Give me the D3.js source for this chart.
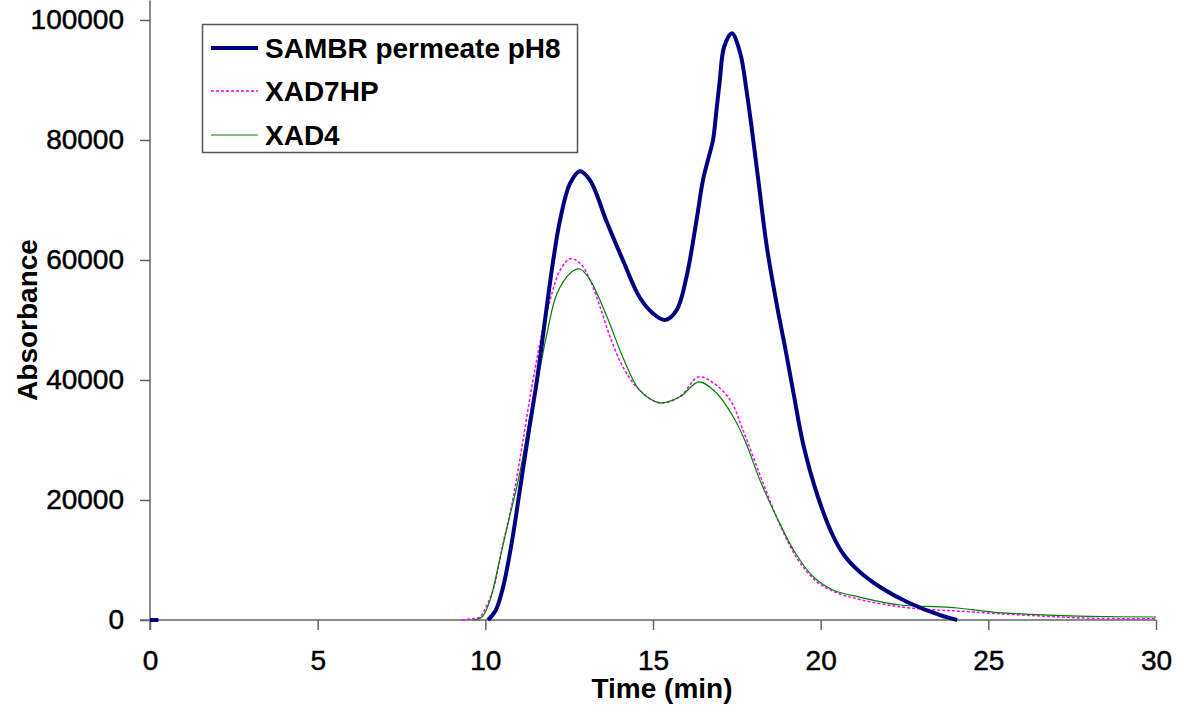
<!DOCTYPE html>
<html>
<head>
<meta charset="utf-8">
<script src="https://cdn.jsdelivr.net/npm/d3@7"></script>
<style>
  body { margin: 0; background: #fff; }
  svg text { font-family: "Liberation Sans", Arial, sans-serif; fill: #000; }
</style>
</head>
<body>
<svg width="1185" height="718"></svg>
<script>
// Series data: [time (min), absorbance]
// null marks a gap in the recording
const sambr = [
  [0, 0], [0.25, 0], null,
  [10.08, 0], [10.3, 1500], [10.53, 5500], [10.8, 13300], [11.03, 21700], [11.27, 30500],
  [11.54, 40000], [11.78, 50000], [12.0, 59000], [12.23, 66700], [12.53, 72800], [12.82, 74800],
  [13.12, 73300], [13.63, 66200], [14.1, 60000], [14.6, 53800], [15.0, 51100], [15.36, 50000],
  [15.71, 51700], [16.0, 57200], [16.3, 66700], [16.49, 73300], [16.64, 76700], [16.79, 80000],
  [16.88, 84300], [16.99, 89800], [17.12, 95500], [17.35, 97800], [17.6, 94500], [17.8, 87800],
  [17.95, 81700], [18.13, 73800], [18.4, 62000], [18.7, 52300], [18.97, 44500], [19.2, 37500],
  [19.48, 29300], [19.92, 20500], [20.37, 14000], [20.7, 10800], [21.17, 8000], [21.77, 5500],
  [22.58, 3000], [23.56, 800], [24.07, 0]
];

const xad7hp = [
  [9.3, 0], [9.6, 200], [9.84, 500], [9.93, 1200], [10.23, 5000], [10.5, 12000], [10.8, 19500],
  [11.09, 28800], [11.39, 39000], [11.69, 47800], [11.93, 53300], [12.23, 58300], [12.53, 60200],
  [12.82, 59500], [13.12, 56700], [13.42, 52200], [13.72, 47200], [14.1, 42200], [14.6, 38300],
  [15.2, 36200], [15.8, 37200], [16.35, 40500], [16.8, 39500], [17.3, 36700], [17.68, 31700],
  [18.25, 23300], [18.79, 15800], [19.33, 10000], [19.9, 6300], [20.5, 4500], [21.17, 3400],
  [22.37, 2200], [23.35, 1700], [24.07, 1500], [25.14, 1100], [26.84, 600], [28.0, 300], [30.0, 200]
];

const xad4 = [
  [9.63, 0], [9.9, 500], [10.14, 3300], [10.38, 8800], [10.65, 15500], [10.95, 22500],
  [11.12, 27200], [11.33, 34000], [11.54, 39300], [11.84, 47800], [12.13, 54300], [12.53, 57800],
  [12.82, 58500], [13.12, 56700], [13.63, 50500], [14.1, 43800], [14.6, 38300], [15.2, 36200],
  [15.8, 37200], [16.37, 39700], [16.9, 37800], [17.4, 33800], [17.75, 29800], [18.19, 23300],
  [18.7, 17000], [19.24, 11200], [19.78, 7200], [20.37, 5000], [21.17, 3800], [22.37, 2500],
  [23.56, 2200], [24.07, 2000], [25.14, 1300], [26.84, 800], [28.0, 600], [30.0, 500]
];

const xTicks = [0, 5, 10, 15, 20, 25, 30];
const yTicks = [0, 20000, 40000, 60000, 80000, 100000];
const seriesNames = ["SAMBR permeate pH8", "XAD7HP", "XAD4"];

const svg = d3.select("svg");

const x = d3.scaleLinear().domain([0, 30]).range([150, 1156]);
const y = d3.scaleLinear().domain([0, 100000]).range([620, 20]);

const axisColor = "#646464";

// Y axis
const yAxis = svg.append("g")
  .attr("transform", "translate(150,0)")
  .call(d3.axisLeft(y).tickValues(yTicks).tickSize(10).tickPadding(16).tickFormat(d3.format("d")));

// X axis
const xAxis = svg.append("g")
  .attr("transform", "translate(0,620)")
  .call(d3.axisBottom(x).tickValues(xTicks).tickSize(10).tickPadding(20).tickFormat(d3.format("d")));

[yAxis, xAxis].forEach(g => {
  g.select(".domain").attr("stroke", axisColor).attr("stroke-width", 1.5);
  g.selectAll(".tick line").attr("stroke", axisColor).attr("stroke-width", 1.5);
  g.selectAll(".tick text")
    .attr("font-size", 28)
    .attr("font-family", "Liberation Sans, Arial, sans-serif")
    .attr("fill", "#000")
    .attr("stroke", "#000")
    .attr("stroke-width", 0.5);
});
yAxis.select(".domain").attr("d", "M0,0.5V630H0");
xAxis.select(".domain").attr("d", "M140,0H1156");

// Curves
const line = d3.line()
  .defined(d => d !== null)
  .x(d => x(d[0]))
  .y(d => y(d[1]))
  .curve(d3.curveCatmullRom.alpha(0.5));

svg.append("path").datum(xad7hp)
  .attr("fill", "none").attr("stroke", "#ff00ff").attr("stroke-width", 1.5)
  .attr("stroke-dasharray", "3,2").attr("d", line);

svg.append("path").datum(xad4)
  .attr("fill", "none").attr("stroke", "#008000").attr("stroke-width", 1.2)
  .attr("d", line);

svg.append("path").datum(sambr)
  .attr("fill", "none").attr("stroke", "#000080").attr("stroke-width", 4)
  .attr("stroke-linejoin", "round").attr("d", line);

// Axis titles
svg.append("text")
  .attr("x", 662).attr("y", 698)
  .attr("text-anchor", "middle")
  .attr("font-size", 28).attr("font-weight", "bold")
  .text("Time (min)");

svg.append("text")
  .attr("transform", "translate(37,320) rotate(-90)")
  .attr("text-anchor", "middle")
  .attr("font-size", 28).attr("font-weight", "bold")
  .text("Absorbance");

// Legend
const legend = svg.append("g");
legend.append("rect")
  .attr("x", 202.5).attr("y", 24.5).attr("width", 375).attr("height", 128)
  .attr("fill", "#fff").attr("stroke", "#555").attr("stroke-width", 1.5);

const legendStyles = [
  { color: "#000080", width: 4, dash: null },
  { color: "#ff00ff", width: 1.5, dash: "3,2" },
  { color: "#008000", width: 1.2, dash: null }
];
const legendY = [48, 91, 135];

seriesNames.forEach((name, i) => {
  const s = legendStyles[i];
  legend.append("line")
    .attr("x1", 211).attr("x2", 258)
    .attr("y1", legendY[i]).attr("y2", legendY[i])
    .attr("stroke", s.color).attr("stroke-width", s.width)
    .attr("stroke-dasharray", s.dash);
  legend.append("text")
    .attr("x", 265).attr("y", legendY[i])
    .attr("dy", "0.35em")
    .attr("font-size", 28).attr("font-weight", "bold")
    .text(name);
});
</script>
</body>
</html>
